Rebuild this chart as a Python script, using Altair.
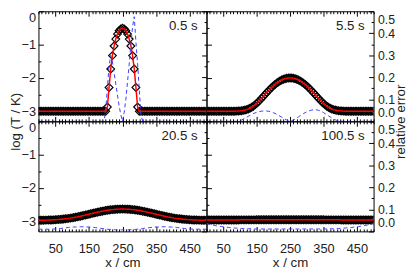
import altair as alt
import pandas as pd

# ---------------- data ----------------
x_cm = [0, 5, 10, 15, 20, 25, 30, 35, 40, 45,
        50, 55, 60, 65, 70, 75, 80, 85, 90, 95,
        100, 105, 110, 115, 120, 125, 130, 135, 140, 145,
        150, 155, 160, 165, 170, 175, 180, 185, 190, 195,
        200, 205, 210, 215, 220, 225, 230, 235, 240, 245,
        250, 255, 260, 265, 270, 275, 280, 285, 290, 295,
        300, 305, 310, 315, 320, 325, 330, 335, 340, 345,
        350, 355, 360, 365, 370, 375, 380, 385, 390, 395,
        400, 405, 410, 415, 420, 425, 430, 435, 440, 445,
        450, 455, 460, 465, 470, 475, 480, 485, 490, 495,
        500]

logT_05 = [-3.0, -3.0, -3.0, -3.0, -3.0, -3.0, -3.0, -3.0, -3.0, -3.0,
           -3.0, -3.0, -3.0, -3.0, -3.0, -3.0, -3.0, -3.0, -3.0, -3.0,
           -3.0, -3.0, -3.0, -3.0, -3.0, -3.0, -3.0, -3.0, -3.0, -3.0,
           -3.0, -3.0, -3.0, -3.0, -3.0, -3.0, -3.0, -3.0, -3.0, -3.0,
           -3.0, -2.870, -2.284, -1.730, -1.330, -1.042, -0.833, -0.685, -0.585, -0.527,
           -0.509, -0.527, -0.585, -0.685, -0.833, -1.042, -1.330, -1.730, -2.284, -2.870,
           -3.0, -3.0, -3.0, -3.0, -3.0, -3.0, -3.0, -3.0, -3.0, -3.0,
           -3.0, -3.0, -3.0, -3.0, -3.0, -3.0, -3.0, -3.0, -3.0, -3.0,
           -3.0, -3.0, -3.0, -3.0, -3.0, -3.0, -3.0, -3.0, -3.0, -3.0,
           -3.0, -3.0, -3.0, -3.0, -3.0, -3.0, -3.0, -3.0, -3.0, -3.0,
           -3.0]

logT_55 = [-3.0, -3.0, -3.0, -3.0, -3.0, -3.0, -3.0, -3.0, -3.0, -3.0,
           -3.0, -3.0, -3.0, -3.0, -2.999, -2.998, -2.997, -2.996, -2.994, -2.991,
           -2.987, -2.981, -2.973, -2.962, -2.948, -2.930, -2.907, -2.879, -2.846, -2.807,
           -2.763, -2.715, -2.664, -2.609, -2.554, -2.497, -2.442, -2.387, -2.334, -2.284,
           -2.237, -2.194, -2.154, -2.119, -2.088, -2.061, -2.039, -2.022, -2.010, -2.003,
           -2.000, -2.003, -2.010, -2.022, -2.039, -2.061, -2.088, -2.119, -2.154, -2.194,
           -2.237, -2.284, -2.334, -2.387, -2.442, -2.497, -2.554, -2.609, -2.664, -2.715,
           -2.763, -2.807, -2.846, -2.879, -2.907, -2.930, -2.948, -2.962, -2.973, -2.981,
           -2.987, -2.991, -2.994, -2.996, -2.997, -2.998, -2.999, -3.0, -3.0, -3.0,
           -3.0, -3.0, -3.0, -3.0, -3.0, -3.0, -3.0, -3.0, -3.0, -3.0,
           -3.0]

logT_205 = [-2.967, -2.967, -2.966, -2.965, -2.963, -2.962, -2.960, -2.958, -2.956, -2.954,
            -2.951, -2.947, -2.943, -2.939, -2.934, -2.929, -2.923, -2.917, -2.910, -2.902,
            -2.894, -2.885, -2.875, -2.866, -2.855, -2.844, -2.833, -2.821, -2.810, -2.798,
            -2.785, -2.773, -2.761, -2.749, -2.738, -2.726, -2.715, -2.704, -2.694, -2.684,
            -2.675, -2.667, -2.660, -2.653, -2.647, -2.642, -2.638, -2.634, -2.632, -2.631,
            -2.630, -2.631, -2.632, -2.634, -2.638, -2.642, -2.647, -2.653, -2.660, -2.667,
            -2.675, -2.684, -2.694, -2.704, -2.715, -2.726, -2.738, -2.749, -2.761, -2.773,
            -2.785, -2.798, -2.810, -2.821, -2.833, -2.844, -2.855, -2.866, -2.875, -2.885,
            -2.894, -2.902, -2.910, -2.917, -2.923, -2.929, -2.934, -2.939, -2.943, -2.947,
            -2.951, -2.954, -2.956, -2.958, -2.960, -2.962, -2.963, -2.965, -2.966, -2.967,
            -2.967]

logT_1005 = [-2.957, -2.957, -2.957, -2.957, -2.957, -2.957, -2.957, -2.957, -2.957, -2.957,
             -2.956, -2.956, -2.956, -2.956, -2.956, -2.956, -2.956, -2.956, -2.956, -2.956,
             -2.954, -2.954, -2.954, -2.954, -2.954, -2.954, -2.954, -2.954, -2.954, -2.954,
             -2.953, -2.953, -2.953, -2.953, -2.953, -2.953, -2.953, -2.953, -2.953, -2.953,
             -2.952, -2.952, -2.952, -2.952, -2.952, -2.952, -2.952, -2.952, -2.952, -2.952,
             -2.952, -2.952, -2.952, -2.952, -2.952, -2.952, -2.952, -2.952, -2.952, -2.952,
             -2.952, -2.953, -2.953, -2.953, -2.953, -2.953, -2.953, -2.953, -2.953, -2.953,
             -2.953, -2.954, -2.954, -2.954, -2.954, -2.954, -2.954, -2.954, -2.954, -2.954,
             -2.954, -2.956, -2.956, -2.956, -2.956, -2.956, -2.956, -2.956, -2.956, -2.956,
             -2.956, -2.957, -2.957, -2.957, -2.957, -2.957, -2.957, -2.957, -2.957, -2.957,
             -2.957]

err_05 = [0.0, 0.0, 0.0, 0.0, 0.0, 0.0, 0.0, 0.0, 0.0, 0.0,
          0.0, 0.0, 0.0, 0.0, 0.0, 0.0, 0.0, 0.0, 0.0, 0.0,
          0.0, 0.0, 0.0, 0.0, 0.0, 0.0, 0.0, 0.0, 0.0, 0.0,
          0.0, 0.0, 0.0, 0.0, 0.0, 0.0, 0.0, 0.0, 0.0, 0.0,
          0.05, 0.15, 0.25, 0.30, 0.27, 0.22, 0.17, 0.12, 0.07, 0.03,
          0.0, 0.04, 0.10, 0.18, 0.26, 0.35, 0.43, 0.475, 0.36, 0.26,
          0.14, 0.03, 0.0, 0.0, 0.0, 0.0, 0.0, 0.0, 0.0, 0.0,
          0.0, 0.0, 0.0, 0.0, 0.0, 0.0, 0.0, 0.0, 0.0, 0.0,
          0.0, 0.0, 0.0, 0.0, 0.0, 0.0, 0.0, 0.0, 0.0, 0.0,
          0.0, 0.0, 0.0, 0.0, 0.0, 0.0, 0.0, 0.0, 0.0, 0.0,
          0.0]

err_55 = [0.0, 0.0, 0.0, 0.0, 0.0, 0.0, 0.0, 0.0, 0.0, 0.0,
          0.0, 0.0, 0.0, 0.0, 0.0, 0.0, 0.0, 0.0, 0.0, 0.001,
          0.003, 0.006, 0.010, 0.014, 0.018, 0.023, 0.027, 0.031, 0.035, 0.038,
          0.041, 0.043, 0.045, 0.046, 0.047, 0.047, 0.047, 0.046, 0.044, 0.042,
          0.039, 0.036, 0.032, 0.028, 0.023, 0.019, 0.014, 0.010, 0.006, 0.003,
          0.0, 0.003, 0.006, 0.010, 0.015, 0.020, 0.025, 0.030, 0.035, 0.039,
          0.043, 0.046, 0.049, 0.051, 0.053, 0.053, 0.052, 0.050, 0.048, 0.044,
          0.040, 0.035, 0.030, 0.025, 0.020, 0.015, 0.011, 0.007, 0.004, 0.002,
          0.001, 0.0, 0.0, 0.0, 0.0, 0.0, 0.0, 0.0, 0.0, 0.0,
          0.0, 0.0, 0.0, 0.0, 0.0, 0.0, 0.0, 0.0, 0.0, 0.0,
          0.0]

err_205 = [0.010, 0.010, 0.010, 0.010, 0.010, 0.010, 0.010, 0.010, 0.010, 0.011,
           0.011, 0.012, 0.012, 0.013, 0.014, 0.015, 0.016, 0.017, 0.018, 0.019,
           0.019, 0.020, 0.020, 0.020, 0.021, 0.021, 0.021, 0.021, 0.020, 0.020,
           0.020, 0.019, 0.019, 0.018, 0.017, 0.016, 0.015, 0.014, 0.013, 0.012,
           0.011, 0.010, 0.009, 0.009, 0.008, 0.008, 0.007, 0.007, 0.007, 0.007,
           0.007, 0.007, 0.007, 0.007, 0.007, 0.008, 0.008, 0.009, 0.009, 0.010,
           0.011, 0.012, 0.013, 0.014, 0.015, 0.016, 0.017, 0.018, 0.019, 0.019,
           0.020, 0.020, 0.020, 0.021, 0.021, 0.021, 0.021, 0.020, 0.020, 0.020,
           0.019, 0.019, 0.018, 0.017, 0.016, 0.015, 0.014, 0.013, 0.012, 0.012,
           0.011, 0.011, 0.010, 0.010, 0.010, 0.010, 0.010, 0.010, 0.010, 0.010,
           0.010]

err_1005 = [0.036, 0.034, 0.032, 0.030, 0.028, 0.027, 0.025, 0.024, 0.023, 0.022,
            0.021, 0.020, 0.019, 0.018, 0.017, 0.017, 0.016, 0.015, 0.015, 0.014,
            0.014, 0.013, 0.013, 0.013, 0.012, 0.012, 0.012, 0.012, 0.011, 0.011,
            0.011, 0.011, 0.011, 0.011, 0.011, 0.011, 0.011, 0.011, 0.011, 0.011,
            0.011, 0.011, 0.011, 0.011, 0.011, 0.011, 0.011, 0.011, 0.011, 0.011,
            0.011, 0.011, 0.011, 0.011, 0.011, 0.011, 0.011, 0.011, 0.011, 0.011,
            0.011, 0.011, 0.011, 0.011, 0.011, 0.011, 0.011, 0.011, 0.011, 0.011,
            0.011, 0.011, 0.011, 0.012, 0.012, 0.012, 0.012, 0.013, 0.013, 0.013,
            0.014, 0.014, 0.015, 0.015, 0.016, 0.017, 0.017, 0.018, 0.019, 0.020,
            0.021, 0.022, 0.023, 0.024, 0.025, 0.027, 0.028, 0.030, 0.032, 0.034,
            0.036]

time_labels = ["0.5 s", "5.5 s", "20.5 s", "100.5 s"]
x_ticks = [50, 150, 250, 350, 450]
x_minor = [0, 10, 20, 30, 40, 60, 70, 80, 90, 100,
           110, 120, 130, 140, 160, 170, 180, 190, 200,
           210, 220, 230, 240, 260, 270, 280, 290, 300,
           310, 320, 330, 340, 360, 370, 380, 390, 400,
           410, 420, 430, 440, 460, 470, 480, 490, 500]
logT_ticks = [0, -1, -2, -3]
logT_minor = [-0.5, -1.5, -2.5]
err_ticks = [0.0, 0.1, 0.2, 0.3, 0.4, 0.5]
err_minor = [0.05, 0.15, 0.25, 0.35, 0.45]

# ---------------- styling ----------------
FONT = "Liberation Sans, Arial, Helvetica, sans-serif"
TXT = "#222222"
RED = "#ff0000"
BLUE = "#3b3bff"
H = 112
TICK = 5
MINOR = 2.5


def panel(logT, err, label, w, is_left, is_bottom, top_row):
    df = pd.DataFrame({"x": x_cm, "logT": logT, "err": err})
    base = alt.Chart(df)
    xscale = alt.Scale(domain=[0, 500], nice=False, zero=False)
    lscale = alt.Scale(domain=[-3.3, 0], nice=False, zero=False)
    escale = alt.Scale(domain=[0, 0.5], nice=False, zero=False)

    # bottom x axis (labels only on the bottom row)
    xb_axis = dict(orient="bottom", values=x_ticks, labels=is_bottom, domain=False,
                   grid=False, offset=-TICK, tickSize=TICK, labelPadding=11,
                   titlePadding=1)
    if is_bottom:
        x_bottom = alt.X("x:Q", scale=xscale, title="x / cm", axis=alt.Axis(**xb_axis))
    else:
        x_bottom = alt.X("x:Q", scale=xscale, title=None, axis=alt.Axis(**xb_axis))

    # left y axis: log T
    yl_axis = dict(orient="left", values=logT_ticks, labels=is_left, domain=False,
                   grid=False, offset=-TICK, tickSize=TICK, labelPadding=3,
                   labelFlush=True, format=".0f")
    if is_left and top_row:
        yl_axis.update(titleAngle=270, titleX=-28, titleY=H, titleAlign="center",
                       titleBaseline="middle")
        y_left = alt.Y("logT:Q", scale=lscale, title="log (T / K)", axis=alt.Axis(**yl_axis))
    else:
        y_left = alt.Y("logT:Q", scale=lscale, title=None, axis=alt.Axis(**yl_axis))

    # right y axis: relative error
    yr_axis = dict(orient="right", values=err_ticks, labels=not is_left, domain=False,
                   grid=False, offset=-TICK, tickSize=TICK, labelPadding=4,
                   labelFlush=True, labelFlushOffset=-2, labelFontSize=12.5,
                   format=".1f")
    if (not is_left) and top_row:
        yr_axis.update(titleAngle=270, titleX=32, titleY=H, titleAlign="center",
                       titleBaseline="middle")
        y_right = alt.Y("err:Q", scale=escale, title="relative error", axis=alt.Axis(**yr_axis))
    else:
        y_right = alt.Y("err:Q", scale=escale, title=None, axis=alt.Axis(**yr_axis))

    x_top = alt.X("x:Q", scale=xscale, title=None,
                  axis=alt.Axis(orient="top", values=x_ticks, labels=False, domain=False,
                                grid=False, offset=-TICK, tickSize=TICK))

    # minor tick axes (carried by invisible layers)
    x_minor_b = alt.X("x:Q", scale=xscale, title=None,
                      axis=alt.Axis(orient="bottom", values=x_minor, labels=False, domain=False,
                                    grid=False, offset=-MINOR, tickSize=MINOR))
    x_minor_t = alt.X("x:Q", scale=xscale, title=None,
                      axis=alt.Axis(orient="top", values=x_minor, labels=False, domain=False,
                                    grid=False, offset=-MINOR, tickSize=MINOR))
    y_minor_l = alt.Y("logT:Q", scale=lscale, title=None,
                      axis=alt.Axis(orient="left", values=logT_minor, labels=False, domain=False,
                                    grid=False, offset=-MINOR, tickSize=MINOR))
    y_minor_r = alt.Y("err:Q", scale=escale, title=None,
                      axis=alt.Axis(orient="right", values=err_minor, labels=False, domain=False,
                                    grid=False, offset=-MINOR, tickSize=MINOR))

    diamonds = base.mark_point(shape="diamond", filled=False, color="black", size=62,
                               strokeWidth=1.2, opacity=1, clip=True).encode(x=x_bottom, y=y_left)
    red = base.mark_line(color=RED, strokeWidth=1.5, clip=True).encode(x=x_bottom, y=y_left)
    txt = alt.Chart(pd.DataFrame({"t": [label]})).mark_text(
        align="right", baseline="middle", font=FONT, fontSize=13.5, color=TXT
    ).encode(text="t:N", x=alt.value(w - 9), y=alt.value(15))
    blue = base.mark_line(color=BLUE, strokeWidth=1, strokeDash=[4, 3], clip=True).encode(
        x=x_top, y=y_right)
    ghost1 = base.mark_point(opacity=0, size=1).encode(x=x_minor_b, y=y_minor_l)
    ghost2 = base.mark_point(opacity=0, size=1).encode(x=x_minor_t, y=y_minor_r)

    return alt.layer(alt.layer(diamonds, red, txt), blue, ghost1, ghost2).resolve_scale(
        x="independent", y="independent").properties(width=w, height=H)


p1 = panel(logT_05, err_05, time_labels[0], 171, True, False, True)
p2 = panel(logT_55, err_55, time_labels[1], 170, False, False, True)
p3 = panel(logT_205, err_205, time_labels[2], 171, True, True, False)
p4 = panel(logT_1005, err_1005, time_labels[3], 170, False, True, False)

chart = alt.concat(p1, p2, p3, p4, columns=2, spacing=0, bounds="flush").properties(
    padding={"left": 0, "top": 0, "right": 0, "bottom": 0},
    background="white",
).configure_view(
    stroke="black", strokeWidth=1
).configure_axis(
    labelFont=FONT, labelFontSize=13, labelColor=TXT,
    titleFont=FONT, titleFontSize=13.5, titleColor=TXT, titleFontWeight="normal",
    tickColor="black", tickWidth=1
)

chart.save("out.html", embed_options={"renderer": "svg", "actions": False})
